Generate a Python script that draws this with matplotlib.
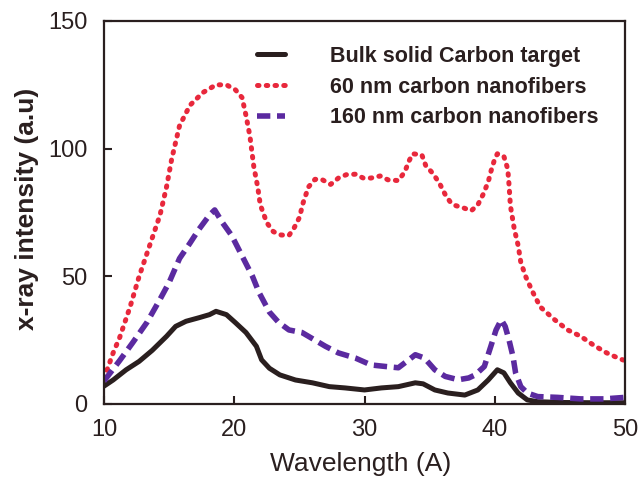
import matplotlib
matplotlib.use("Agg")
import matplotlib.pyplot as plt

plt.rcParams['font.family'] = ['Liberation Sans', 'DejaVu Sans']

# Bulk solid carbon target
x_bulk = [10.0, 10.7, 11.7, 12.7, 13.7, 14.8, 15.5, 16.3, 17.3, 18.1, 18.6, 19.4, 20.1, 20.9,
          21.7, 22.1, 22.7, 23.5, 24.7, 26.0, 27.3, 28.5, 30.0, 31.3, 32.6, 33.9, 34.5, 35.4,
          36.4, 37.7, 38.7, 39.5, 40.2, 40.7, 41.2, 41.8, 42.5, 43.3, 45.0, 47.5, 50.0]
y_bulk = [7, 9.4, 13.4, 16.7, 21, 26.5, 30.4, 32.4, 33.8, 35, 36.3, 35, 31.8, 28,
          22.6, 17.3, 14, 11.4, 9.4, 8.3, 6.8, 6.3, 5.5, 6.3, 6.8, 8.3, 7.9, 5.5,
          4.3, 3.5, 5.5, 9.4, 13.4, 12.2, 8.3, 4.3, 1.6, 0.9, 0.6, 0.5, 0.5]

# 60 nm carbon nanofibers
x_60 = [10.0, 10.7, 11.2, 12.0, 12.7, 13.5, 14.3, 14.8, 15.2, 15.8, 16.6, 17.6, 18.6, 19.4,
        20.1, 20.6, 20.9, 21.2, 21.5, 21.8, 22.0, 22.5, 23.0, 23.6, 24.2, 24.6, 25.0, 25.3,
        25.7, 26.2, 26.7, 27.4, 28.0, 28.6, 29.3, 29.9, 30.5, 31.2, 31.8, 32.6, 33.1, 33.4,
        33.7, 34.4, 34.7, 35.3, 35.8, 36.2, 36.6, 37.0, 37.6, 38.2, 38.7, 39.1, 39.5, 39.7,
        40.0, 40.2, 40.7, 41.0, 41.1, 41.2, 41.5, 41.8, 42.0, 42.4, 42.9, 43.5, 44.6, 45.6,
        46.6, 47.6, 48.6, 49.6, 50.0]
y_60 = [10, 20, 26, 38, 50, 62, 74, 85, 96, 109, 117, 122, 125, 125,
        123, 120, 113, 105, 93, 85, 78, 71, 67.5, 66.2, 66, 69, 73, 79,
        85, 88, 88, 86, 88.5, 89.8, 90, 88.5, 88.5, 89.3, 87.8, 87.5, 91, 95,
        98, 97.6, 93.4, 90, 86, 82, 79, 77.7, 76.8, 75.7, 78, 82, 87, 91,
        96, 98, 97, 92, 85.6, 77.7, 68.5, 62, 55.5, 49.6, 44, 38, 33, 29,
        26.5, 23, 20, 17.7, 17]

# 160 nm carbon nanofibers
x_160 = [10.0, 11.2, 12.2, 13.3, 14.3, 15.0, 15.8, 16.6, 17.3, 18.1, 18.5, 19.1, 19.8, 20.6,
         21.4, 21.9, 22.7, 23.4, 24.2, 25.2, 26.2, 27.0, 28.0, 29.3, 30.5, 31.6, 32.6, 33.4,
         33.9, 34.6, 35.4, 36.2, 37.2, 38.0, 38.5, 39.2, 39.7, 40.1, 40.5, 40.8, 41.1, 41.4,
         41.6, 42.0, 42.5, 43.3, 44.8, 46.6, 48.4, 50.0]
y_160 = [9, 17, 24, 32, 41, 47.6, 57, 63, 68.5, 74, 76, 71, 66, 58,
         50, 43.7, 36, 32, 29, 28, 25, 22.6, 20, 18, 15.3, 14.7, 14.2, 17.3,
         19.3, 18, 13.4, 10.8, 9.5, 10.2, 11.4, 14.7, 22.6, 29, 33, 30.4, 25, 18.6,
         12.2, 6.8, 4.3, 2.9, 2.6, 2, 2, 2.6]

labels = ["Bulk solid Carbon target", "60 nm carbon nanofibers", "160 nm carbon nanofibers"]
x_ticks = [10, 20, 30, 40, 50]
y_ticks = [0, 50, 100, 150]

fig = plt.figure(figsize=(6.43, 4.79), dpi=100)
ax = fig.add_axes([104/643, 1-404/479, (625-104)/643, (404-21)/479])

c_black = '#2a1f1f'
c_red = '#e8283c'
c_blue = '#5b2aa0'

ax.plot(x_bulk, y_bulk, color=c_black, lw=3.6, solid_capstyle='round',
        solid_joinstyle='round', label=labels[0])
ax.plot(x_60, y_60, color=c_red, lw=3.6, linestyle=(0, (0.3, 1.45)),
        dash_capstyle='round', label=labels[1])
ax.plot(x_160, y_160, color=c_blue, lw=4.0, linestyle=(0, (2.4, 1.2)),
        dash_capstyle='butt', label=labels[2])

ax.set_xlim(10, 50)
ax.set_ylim(0, 150)
ax.set_xticks(x_ticks)
ax.set_yticks(y_ticks)
ax.tick_params(direction='in', length=6, width=1.5, labelsize=17, colors=c_black,
               top=False, right=False)
ax.tick_params(axis='y', pad=12)
ax.tick_params(axis='x', pad=11)
for s in ax.spines.values():
    s.set_linewidth(1.6)
    s.set_color(c_black)

ax.set_xlabel("Wavelength (A)", fontsize=19, color=c_black)
ax.set_ylabel("x-ray intensity (a.u)", fontsize=19, fontweight='bold', color=c_black)
ax.xaxis.set_label_coords(0.493, -0.125)
ax.yaxis.set_label_coords(-0.125, 0.509)

leg = ax.legend(loc='upper left', bbox_to_anchor=(257/643, 1-46/479),
                bbox_transform=fig.transFigure, frameon=False, borderpad=0,
                borderaxespad=0, handlelength=1.3, handletextpad=2.1,
                labelspacing=0.45, prop={'size': 15.5, 'weight': 'bold'})
for t in leg.get_texts():
    t.set_color(c_black)

fig.savefig("out.png", dpi=100)
